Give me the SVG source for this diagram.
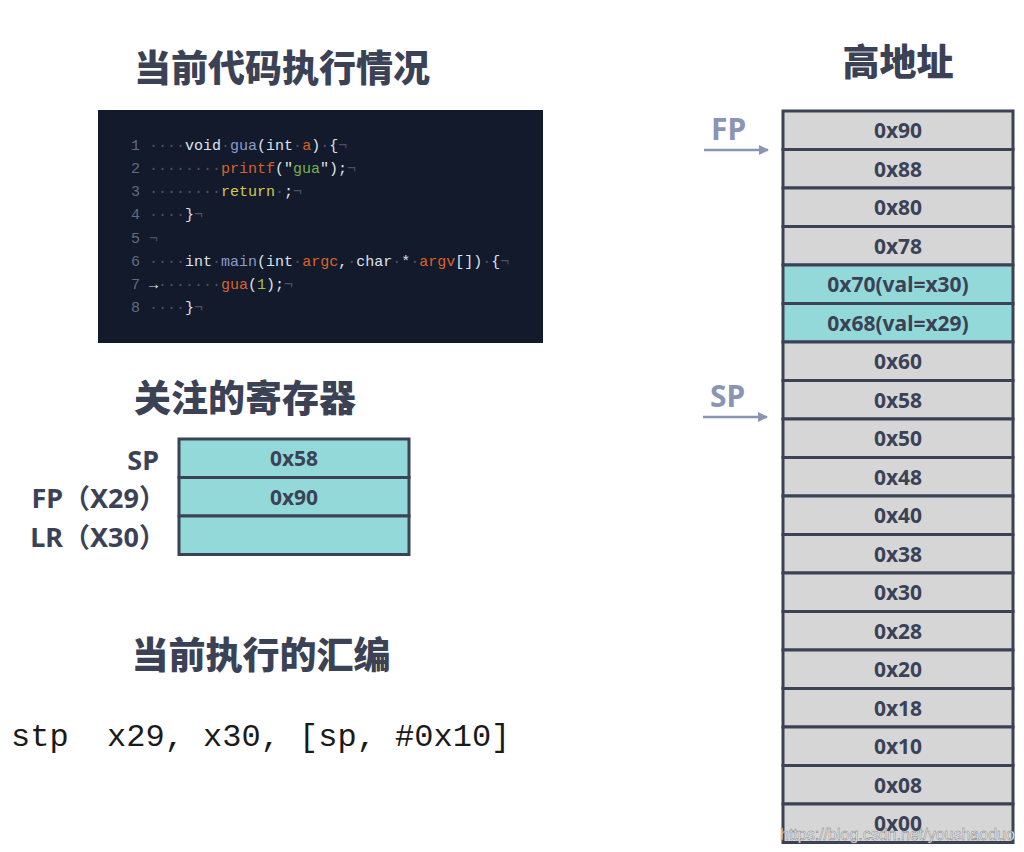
<svg xmlns="http://www.w3.org/2000/svg" width="1024" height="852" viewBox="0 0 1024 852">
<style>
.title{font-family:"Noto Sans CJK SC","Noto Sans",sans-serif;font-weight:900;font-size:37px;fill:#3b4256;text-anchor:middle}
.cell{stroke:#3b4256;stroke-width:3}
.gray{fill:#d6d6d6}
.teal{fill:#94d9d9}
.hex{font-family:"Noto Sans","Open Sans",sans-serif;font-weight:700;font-size:21px;fill:#3b4256;text-anchor:middle}
.reg{font-family:"Noto Sans","Noto Sans CJK SC",sans-serif;font-weight:700;font-size:27px;fill:#3b4256;text-anchor:end}
.ptr{font-family:"Noto Sans",sans-serif;font-weight:700;font-size:30px;fill:#8a94b5}
.code{font-family:"Liberation Mono","DejaVu Sans Mono",monospace;font-size:15px;fill:#dfe3ec}
.n{fill:#646b80}.d{fill:#4b5168}.f{fill:#8a9cc9}.o{fill:#d8642a}.g{fill:#7ab04a}.y{fill:#d6c84a}.l{fill:#a3c23a}
.asm{font-family:"Liberation Mono","Courier New",monospace;font-size:32px;fill:#1a1a1a}
</style>
<defs>
<marker id="ah" viewBox="0 0 10 10" refX="9" refY="5" markerWidth="4" markerHeight="4.5" orient="auto" markerUnits="strokeWidth">
<path d="M0,0 L10,5 L0,10 z" fill="#8a94b5"/>
</marker>
</defs>
<rect width="1024" height="852" fill="#ffffff"/>

<g id="titles">
<text class="title" x="282" y="82">当前代码执行情况</text>
<text class="title" x="898" y="76">高地址</text>
<text class="title" x="245" y="412">关注的寄存器</text>
<text class="title" x="261" y="669">当前执行的汇编</text>
</g>

<g id="code-block">
<rect x="98" y="110" width="445" height="233" fill="#131a2b"/>
<text class="code" xml:space="preserve" x="131" y="150"><tspan class="n">1</tspan> <tspan class="d">····</tspan>void<tspan class="d">·</tspan><tspan class="f">gua</tspan>(int<tspan class="d">·</tspan><tspan class="o">a</tspan>)<tspan class="d">·</tspan>{<tspan class="d">¬</tspan></text>
<text class="code" xml:space="preserve" x="131" y="173"><tspan class="n">2</tspan> <tspan class="d">········</tspan><tspan class="o">printf</tspan>("<tspan class="g">gua</tspan>");<tspan class="d">¬</tspan></text>
<text class="code" xml:space="preserve" x="131" y="196"><tspan class="n">3</tspan> <tspan class="d">········</tspan><tspan class="y">return</tspan><tspan class="d">·</tspan>;<tspan class="d">¬</tspan></text>
<text class="code" xml:space="preserve" x="131" y="219"><tspan class="n">4</tspan> <tspan class="d">····</tspan>}<tspan class="d">¬</tspan></text>
<text class="code" xml:space="preserve" x="131" y="243"><tspan class="n">5</tspan> <tspan class="d">¬</tspan></text>
<text class="code" xml:space="preserve" x="131" y="266"><tspan class="n">6</tspan> <tspan class="d">····</tspan>int<tspan class="d">·</tspan><tspan class="f">main</tspan>(int<tspan class="d">·</tspan><tspan class="o">argc</tspan>,<tspan class="d">·</tspan>char<tspan class="d">·</tspan>*<tspan class="d">·</tspan><tspan class="o">argv</tspan>[])<tspan class="d">·</tspan>{<tspan class="d">¬</tspan></text>
<text class="code" xml:space="preserve" x="131" y="289"><tspan class="n">7</tspan> →<tspan class="d">·······</tspan><tspan class="o">gua</tspan>(<tspan class="l">1</tspan>);<tspan class="d">¬</tspan></text>
<text class="code" xml:space="preserve" x="131" y="312"><tspan class="n">8</tspan> <tspan class="d">····</tspan>}<tspan class="d">¬</tspan></text>
</g>

<g id="registers">
<rect class="cell teal" x="179" y="439" width="230" height="38.5"/>
<rect class="cell teal" x="179" y="477.5" width="230" height="38.5"/>
<rect class="cell teal" x="179" y="516" width="230" height="38.5"/>
<text class="reg" x="159" y="470">SP</text>
<text class="reg" x="166" y="508">FP（X29）</text>
<text class="reg" x="166" y="547">LR（X30）</text>
<text class="hex" x="294" y="466">0x58</text>
<text class="hex" x="294" y="505">0x90</text>
</g>

<g id="assembly">
<text class="asm" xml:space="preserve" x="11" y="746">stp  x29, x30, [sp, #0x10]</text>
</g>

<g id="stack">
<rect class="cell gray" x="783" y="111" width="230" height="38.5"/>
<rect class="cell gray" x="783" y="149.5" width="230" height="38.5"/>
<rect class="cell gray" x="783" y="188" width="230" height="38.5"/>
<rect class="cell gray" x="783" y="226.5" width="230" height="38.5"/>
<rect class="cell teal" x="783" y="265" width="230" height="38.5"/>
<rect class="cell teal" x="783" y="303.5" width="230" height="38.5"/>
<rect class="cell gray" x="783" y="342" width="230" height="38.5"/>
<rect class="cell gray" x="783" y="380.5" width="230" height="38.5"/>
<rect class="cell gray" x="783" y="419" width="230" height="38.5"/>
<rect class="cell gray" x="783" y="457.5" width="230" height="38.5"/>
<rect class="cell gray" x="783" y="496" width="230" height="38.5"/>
<rect class="cell gray" x="783" y="534.5" width="230" height="38.5"/>
<rect class="cell gray" x="783" y="573" width="230" height="38.5"/>
<rect class="cell gray" x="783" y="611.5" width="230" height="38.5"/>
<rect class="cell gray" x="783" y="650" width="230" height="38.5"/>
<rect class="cell gray" x="783" y="688.5" width="230" height="38.5"/>
<rect class="cell gray" x="783" y="727" width="230" height="38.5"/>
<rect class="cell gray" x="783" y="765.5" width="230" height="38.5"/>
<rect class="cell gray" x="783" y="804" width="230" height="38.5"/>
<text class="hex" x="898" y="138">0x90</text>
<text class="hex" x="898" y="177">0x88</text>
<text class="hex" x="898" y="215">0x80</text>
<text class="hex" x="898" y="254">0x78</text>
<text class="hex" x="898" y="292">0x70(val=x30)</text>
<text class="hex" x="898" y="331">0x68(val=x29)</text>
<text class="hex" x="898" y="369">0x60</text>
<text class="hex" x="898" y="408">0x58</text>
<text class="hex" x="898" y="446">0x50</text>
<text class="hex" x="898" y="485">0x48</text>
<text class="hex" x="898" y="523">0x40</text>
<text class="hex" x="898" y="562">0x38</text>
<text class="hex" x="898" y="600">0x30</text>
<text class="hex" x="898" y="639">0x28</text>
<text class="hex" x="898" y="677">0x20</text>
<text class="hex" x="898" y="716">0x18</text>
<text class="hex" x="898" y="754">0x10</text>
<text class="hex" x="898" y="793">0x08</text>
<text class="hex" x="898" y="831">0x00</text>
</g>

<g id="pointers">
<text class="ptr" x="711" y="140">FP</text>
<text class="ptr" x="710" y="407">SP</text>
</g>

<g id="connectors">
<line x1="704" y1="150" x2="768" y2="150" stroke="#8a94b5" stroke-width="2.5" marker-end="url(#ah)"/>
<line x1="703" y1="417" x2="767" y2="417" stroke="#8a94b5" stroke-width="2.5" marker-end="url(#ah)"/>
</g>

<g id="watermark">
<text x="780" y="840" font-family="Liberation Sans,Arial,sans-serif" font-size="16" fill="#f4f4f4" stroke="#7a7a7a" stroke-width="0.45">https://blog.csdn.net/youshaoduo</text>
</g>
</svg>
